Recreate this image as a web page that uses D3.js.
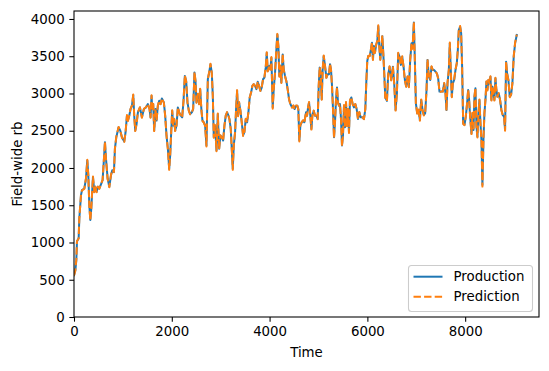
<!DOCTYPE html>
<html><head><meta charset="utf-8">
<script src="https://cdn.jsdelivr.net/npm/d3@7"></script>
<style>body{margin:0;background:#fff}svg{display:block}text{font-family:"DejaVu Sans",sans-serif}</style>
</head><body><svg id="c" width="549" height="371"></svg>
<script>
const time=[0,27,47,61,95,109,143,163,211,245,272,293,313,334,354,388,415,436,463,490,517,558,585,613,633,654,688,722,756,783,817,837,865,912,946,980,1028,1055,1083,1103,1130,1157,1185,1212,1232,1253,1280,1307,1348,1389,1430,1471,1511,1545,1566,1586,
1600,1620,1640,1668,1688,1715,1743,1770,1797,1838,1865,1892,1920,1947,1967,1988,2008,2029,2049,2069,2097,2124,2151,2185,2212,2240,2267,2294,2321,2349,2376,2410,2437,2464,2485,2505,2532,2560,2580,2607,2628,2655,2682,2709,2737,2764,2791,2818,2839,2859,2886,2914,2941,2968,2995,3022,3050,3077,3104,3131,3159,
3179,3206,3227,3247,3268,3295,3315,3336,3356,3376,3404,3431,3458,3485,3513,3540,3567,3594,3622,3649,3676,3703,3730,3758,3785,3812,3839,3867,3894,3921,3942,3962,3989,4016,4037,4064,4085,4112,4139,4159,4180,4200,4221,4241,4268,4289,4316,4343,4370,4398,4425,4459,4486,4513,4541,4568,4588,4609,4629,4656,4684,4711,4745,
4766,4787,4807,4828,4855,4875,4902,4930,4957,4984,5005,5025,5045,5066,5086,5107,5134,5161,5188,5215,5236,5256,5277,5297,5318,5338,5359,5379,5399,5420,5440,5461,5481,5501,5522,5542,5563,5583,5604,5624,5644,5672,5699,5726,5753,5781,5808,5835,5862,5896,5930,5958,5978,5998,6019,6046,6073,6094,6114,6134,6155,6182,6203,6223,6243,6264,6284,6305,6325,6346,6366,6400,6425,
6454,6488,6522,6549,6577,6604,6631,6658,6685,6713,6740,6767,6794,6822,6849,6876,6903,6924,6951,6971,6992,7019,7046,7074,7101,7128,7155,7182,7210,7230,7257,7285,7312,7339,7366,7393,7421,7448,7475,7509,7543,7571,7598,7618,7639,7666,7686,7707,7727,7748,7775,7802,7829,7850,7870,7897,7918,7938,7959,7986,8013,8040,8061,8081,8102,8129,8149,8170,8190,8210,8231,8251,8272,8292,8313,8333,8353,8374,8394,8415,8435,8455,8476,8496,8517,8537,8558,8578,8598,8619,8639,8660,8687,8714,8741,8769,8796,8816,8837,8857,8884,8912,8939,8966,8993,9021,9055];

const production=[560,620,760,1013,1058,1324,1636,1702,1724,1858,2102,1902,1502,1302,1458,1880,1680,1747,1680,1747,1724,1791,1836,2125,2347,2125,1858,1747,1902,1969,1947,2258,2413,2547,2502,2413,2356,2480,2702,2636,2702,2791,2836,2978,2702,2502,2591,2747,2813,2680,2791,2813,2858,2791,2680,2969,
2791,2858,2502,2791,2636,2836,2902,2858,2933,2880,2702,2436,2258,1991,2169,2480,2769,2569,2658,2502,2569,2813,2747,2702,2680,2902,3236,3169,2880,2769,2724,2747,2791,3280,3169,2880,2991,2858,3058,2769,2636,2613,2569,2302,3191,3280,3391,3280,2969,2413,2569,2236,2724,2258,2436,2413,2369,2569,2702,2747,2702,
2658,2524,2258,1991,2302,2480,2791,3036,2702,2880,2769,2613,2436,2480,2658,2613,2747,2947,3013,3102,3124,3102,3058,3156,3102,3036,3080,3191,3213,3347,3547,3302,3369,3324,3480,2813,3058,3280,3591,3791,3636,3236,3369,3147,3524,3324,3236,3169,3058,2924,2858,2813,2836,2791,2836,2836,2791,2369,2569,2613,2636,2613,2747,
2702,2813,2880,2747,2524,2702,2769,2702,2702,2658,3102,3347,3280,2924,3324,3502,3369,3213,3258,3258,3391,3324,3102,2791,2413,2613,2924,3080,2880,2836,2858,2658,2302,2436,2836,2547,2880,2569,2791,2480,2902,2947,2858,2813,2858,2791,2658,2747,2680,2680,2658,2791,3147,3436,3502,3502,3591,3680,3458,3636,3547,3658,3702,3902,3636,3458,3591,3769,3547,3258,2947,2900,3250,
3360,3181,3360,3137,2779,3002,3539,3494,3383,3494,3360,3181,3092,3226,3092,3450,3673,3606,3951,3450,2868,2734,2779,2644,2913,2779,2711,2734,3047,3450,3226,3181,3360,3315,3315,3293,3271,3204,3025,3025,3025,3137,3002,2779,3137,3315,3673,3293,2958,3137,3181,3315,3405,3584,3852,3897,3808,3360,2600,2577,2689,2868,3047,2913,2689,2465,2734,2510,2958,3069,2555,2421,2734,2913,2600,2376,1772,2376,2734,2913,3159,3047,3181,3137,3226,2913,3092,3002,2913,3204,3047,2958,3002,2913,2779,2711,2689,2510,3427,3271,3181,2958,2980,3137,3494,3673,3785];

const prediction=[555,625,770,1020,1050,1330,1640,1700,1720,1865,2110,1895,1495,1295,1465,1885,1675,1750,1675,1750,1720,1795,1840,2135,2355,2120,1850,1740,1905,1975,1945,2265,2420,2550,2500,2410,2350,2485,2710,2630,2705,2795,2840,2985,2695,2495,2595,2750,2815,2675,2795,2815,2860,2785,2675,2975,
2795,2860,2495,2795,2630,2840,2905,2855,2935,2875,2695,2430,2250,1975,2175,2485,2775,2565,2660,2495,2575,2815,2745,2700,2675,2905,3245,3165,2875,2765,2720,2750,2795,3290,3165,2875,2995,2855,3065,2765,2630,2610,2565,2290,3195,3285,3400,3275,2965,2405,2575,2225,2730,2250,2440,2410,2365,2575,2705,2750,2700,
2655,2520,2250,1975,2310,2485,2795,3045,2695,2885,2765,2610,2430,2485,2660,2610,2750,2950,3015,3105,3125,3100,3055,3160,3100,3035,3085,3195,3215,3355,3555,3295,3375,3320,3490,2795,3065,3285,3600,3800,3630,3225,3375,3140,3535,3320,3230,3165,3055,2920,2855,2810,2840,2790,2840,2835,2785,2355,2575,2615,2640,2610,2750,
2700,2815,2885,2745,2515,2705,2770,2700,2705,2655,3110,3355,3275,2915,3330,3510,3365,3210,3260,3255,3400,3320,3095,2785,2400,2620,2930,3085,2875,2835,2860,2650,2290,2440,2845,2540,2885,2560,2795,2470,2910,2950,2855,2810,2860,2790,2655,2750,2680,2680,2655,2795,3155,3445,3505,3500,3595,3690,3450,3640,3545,3665,3710,3915,3630,3450,3595,3780,3540,3250,2940,2895,3255,
3365,3175,3365,3130,2770,3010,3545,3490,3380,3500,3355,3175,3090,3230,3085,3455,3680,3600,3965,3440,2860,2730,2785,2635,2920,2775,2705,2735,3055,3460,3220,3180,3365,3315,3315,3290,3270,3200,3020,3025,3025,3140,2995,2770,3145,3320,3685,3285,2950,3140,3185,3320,3410,3590,3860,3905,3800,3350,2590,2575,2695,2875,3055,2905,2680,2455,2740,2500,2965,3075,2545,2410,2740,2920,2590,2365,1750,2385,2740,2920,3165,3040,3185,3135,3230,2905,3095,3000,2905,3210,3040,2955,3005,2910,2775,2705,2685,2500,3435,3265,3180,2950,2985,3140,3500,3680,3790];

const xTicks=[0,2000,4000,6000,8000];
const yTicks=[0,500,1000,1500,2000,2500,3000,3500,4000];
const seriesNames=["Production","Prediction"];
const colors=["#1f77b4","#ff7f0e"];

const svg=d3.select("#c");
const L=74,R=539,T=11,B=317;
const x=d3.scaleLinear().domain([0,9510]).range([L,R]);
const y=d3.scaleLinear().domain([0,4107]).range([B,T]);
const fs="13.33px";

svg.append("defs").append("clipPath").attr("id","clip").append("rect")
  .attr("x",L).attr("y",T).attr("width",R-L).attr("height",B-T);

const line=d3.line().x(d=>x(d[0])).y(d=>y(d[1]));
const prodData=time.map((t,i)=>[t,production[i]]);
const predData=time.map((t,i)=>[t,prediction[i]]);
const g=svg.append("g").attr("clip-path","url(#clip)");
g.append("path").datum(prodData).attr("d",line).attr("fill","none")
  .attr("stroke",colors[0]).attr("stroke-width",2).attr("stroke-linejoin","round").attr("stroke-linecap","square");
g.append("path").datum(predData).attr("d",line).attr("fill","none")
  .attr("stroke",colors[1]).attr("stroke-width",2).attr("stroke-dasharray","7.4,3.2").attr("stroke-linejoin","round");

const xa=svg.append("g").attr("transform",`translate(0,${B})`)
  .call(d3.axisBottom(x).tickValues(xTicks).tickFormat(d3.format("d")).tickSize(4.67).tickPadding(4.67));
const ya=svg.append("g").attr("transform",`translate(${L},0)`)
  .call(d3.axisLeft(y).tickValues(yTicks).tickFormat(d3.format("d")).tickSize(4.67).tickPadding(4.67));
[xa,ya].forEach(a=>{
  a.select(".domain").remove();
  a.selectAll("line").attr("stroke","#000").attr("stroke-width",1.07);
  a.selectAll("text").attr("fill","#000").style("font-size",fs).style("font-family","DejaVu Sans");
});

svg.append("rect").attr("x",L).attr("y",T).attr("width",R-L).attr("height",B-T)
  .attr("fill","none").attr("stroke","#000").attr("stroke-width",1.07);

svg.append("text").attr("x",(L+R)/2).attr("y",357).attr("text-anchor","middle")
  .style("font-size",fs).text("Time");
svg.append("text").attr("transform",`translate(22,${(T+B)/2}) rotate(-90)`).attr("text-anchor","middle")
  .style("font-size",fs).text("Field-wide rb");

// legend
const lg=svg.append("g");
lg.append("rect").attr("x",408.5).attr("y",265.5).attr("width",124).attr("height",46)
  .attr("rx",3).attr("fill","#fff").attr("fill-opacity",0.8).attr("stroke","#cccccc").attr("stroke-width",1.07);
seriesNames.forEach((n,i)=>{
  const cy=276.7+i*20;
  lg.append("line").attr("x1",413.5).attr("x2",442.5).attr("y1",cy).attr("y2",cy)
    .attr("stroke",colors[i]).attr("stroke-width",2)
    .attr("stroke-dasharray",i===1?"7.4,3.2":null);
  lg.append("text").attr("x",453.5).attr("y",cy).attr("dy","0.35em")
    .style("font-size",fs).text(n);
});
</script></body></html>
